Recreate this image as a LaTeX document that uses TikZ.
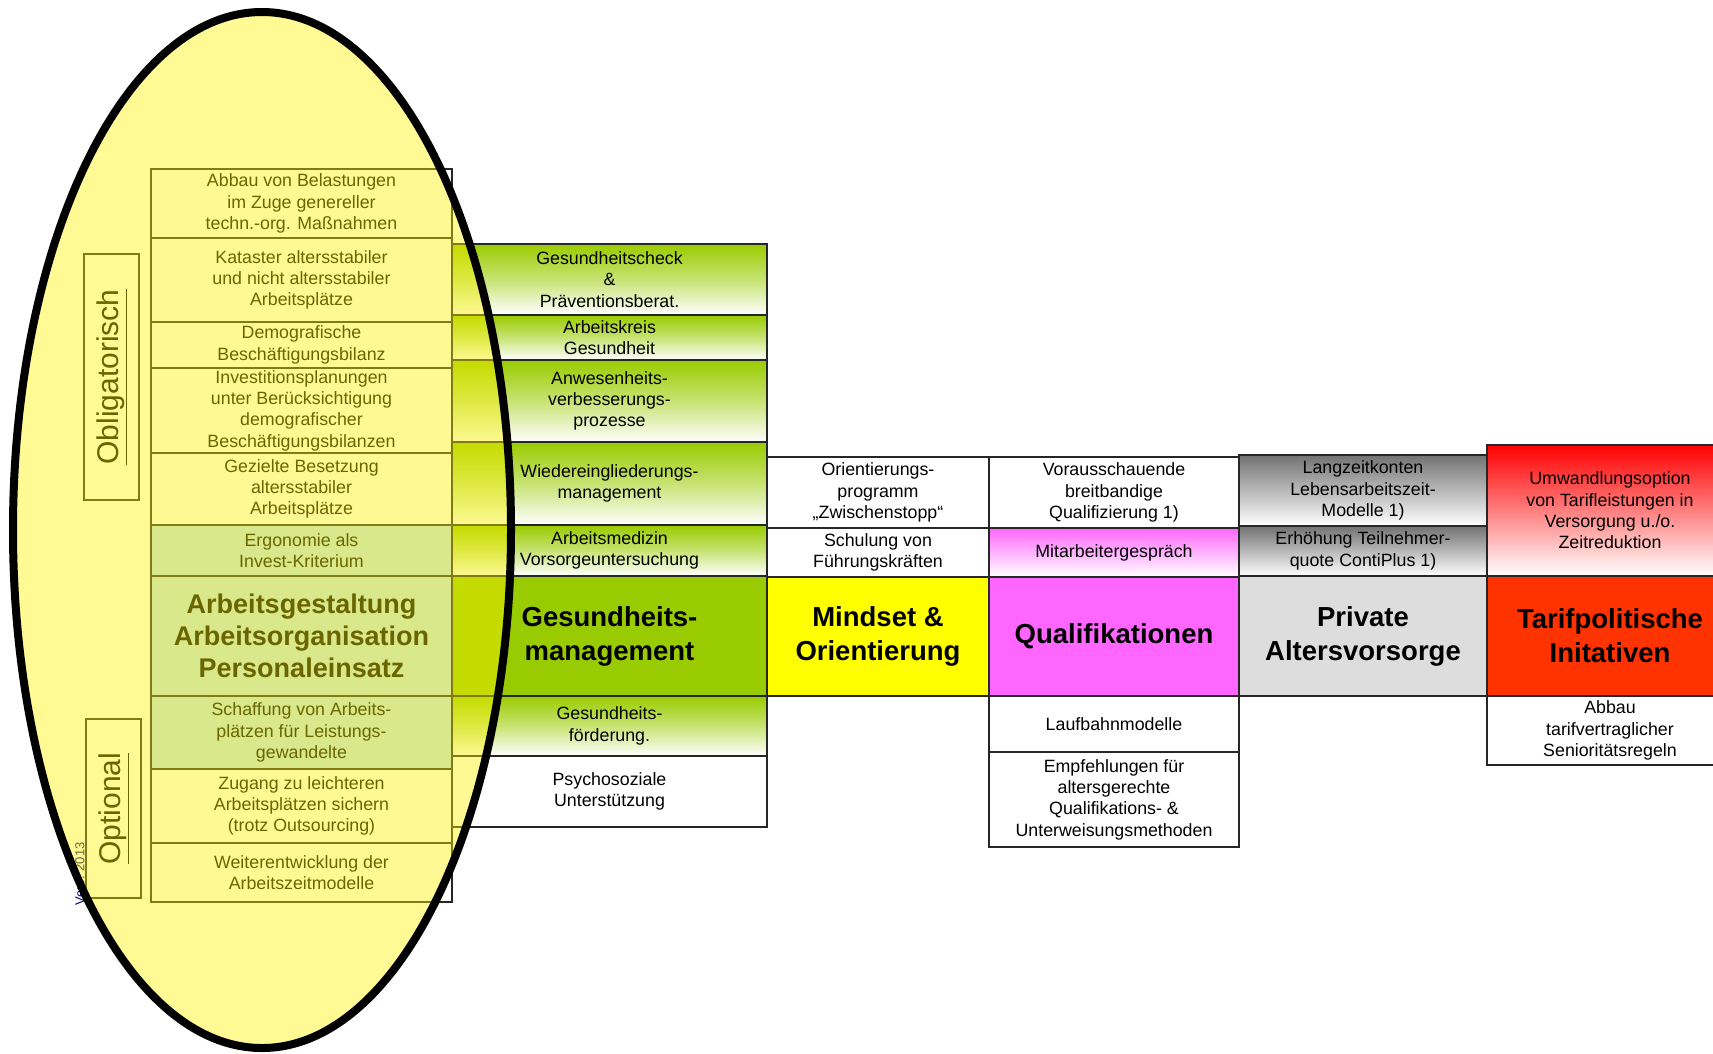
\documentclass[tikz,border=0pt]{standalone}
\usepackage{fontspec}
\setmainfont{Liberation Sans}

\definecolor{gmgreen}{HTML}{99CC00}
\definecolor{mindyellow}{HTML}{FFFF00}
\definecolor{qualpink}{HTML}{FF66FF}
\definecolor{avgray}{HTML}{DDDDDD}
\definecolor{fadegray}{HTML}{727272}
\definecolor{tarifred}{HTML}{FF3300}
\definecolor{tintblue}{HTML}{BCE2EE}

\tikzset{
  cell/.style={rectangle, draw=black!85, line width=1.8pt, inner sep=1pt,
    align=center, text=black, font=\fontsize{17.8}{21.3}\selectfont},
  plain/.style={fill=white},
  tinted/.style={fill=tintblue},
  greenfade/.style={top color=gmgreen, bottom color=white, middle color=gmgreen!55},
  pinkfade/.style={top color=qualpink, bottom color=white},
  grayfade/.style={top color=fadegray, bottom color=white},
  redfade/.style={top color=red, bottom color=white},
  head/.style={line width=2.4pt, font=\bfseries\fontsize{27.5}{34}\selectfont},
  lefthead/.style={fill=tintblue, text=black, font=\bfseries\fontsize{27}{32}\selectfont},
  gmhead/.style={head, fill=gmgreen},
  mindhead/.style={head, fill=mindyellow},
  qualhead/.style={head, fill=qualpink},
  avhead/.style={head, fill=avgray},
  tarifhead/.style={head, fill=tarifred},
  sidebox/.style={rectangle, draw=black!85, line width=1.8pt, rotate=90,
    inner sep=0pt, font=\fontsize{30}{30}\selectfont},
  halo/.style={draw=black, line width=8pt, fill=yellow, fill opacity=0.42},
}

\begin{document}
\begin{tikzpicture}[x=1pt,y=-1pt]
  \useasboundingbox (0,0) rectangle (1713,1053);
  \clip (0,0) rectangle (1713,1053);

  % left column
  \foreach \nm/\ya/\yb/\sty/\txt in {
      a1/169/238/plain/{Abbau von Belastungen\\im Zuge genereller\\techn.-org. Maßnahmen},
      a2/238/322/plain/{Kataster altersstabiler\\und nicht altersstabiler\\Arbeitsplätze},
      a3/322/368/plain/{Demografische\\Beschäftigungsbilanz},
      a4/368/453/plain/{Investitionsplanungen\\unter Berücksichtigung\\demografischer\\Beschäftigungsbilanzen},
      a5/453/525/plain/{Gezielte Besetzung\\altersstabiler\\Arbeitsplätze},
      a6/525/576/tinted/{Ergonomie als\\Invest-Kriterium},
      a7/576/696/lefthead/{Arbeitsgestaltung\\Arbeitsorganisation\\Personaleinsatz},
      a8/696/769/tinted/{Schaffung von Arbeits-\\plätzen für Leistungs-\\gewandelte},
      a9/769/843/plain/{Zugang zu leichteren\\Arbeitsplätzen sichern\\(trotz Outsourcing)},
      a10/843/902/plain/{Weiterentwicklung der\\Arbeitszeitmodelle}}
    \node[cell, \sty, minimum width=301pt, minimum height={(\yb-\ya)*1pt}]
      (\nm) at (301.5, {(\ya+\yb)/2}) {\txt};

  % Gesundheitsmanagement
  \foreach \nm/\ya/\yb/\sty/\txt in {
      g1/244/315/greenfade/{Gesundheitscheck\\\&\\Präventionsberat.},
      g2/315/360/greenfade/{Arbeitskreis\\Gesundheit},
      g3/360/442/greenfade/{Anwesenheits-\\verbesserungs-\\prozesse},
      g4/442/525/greenfade/{Wiedereingliederungs-\\management},
      g5/525/576/greenfade/{Arbeitsmedizin\\Vorsorgeuntersuchung},
      gm/576/696/gmhead/{Gesundheits-\\management},
      g6/696/756/greenfade/{Gesundheits-\\förderung.},
      g7/756/827/plain/{Psychosoziale\\Unterstützung}}
    \node[cell, \sty, minimum width=315pt, minimum height={(\yb-\ya)*1pt}]
      (\nm) at (609.5, {(\ya+\yb)/2}) {\txt};

  % Mindset
  \foreach \nm/\ya/\yb/\sty/\txt in {
      m1/457/528/plain/{Orientierungs-\\programm\\„Zwischenstopp“},
      m2/528/577/plain/{Schulung von\\Führungskräften},
      mm/577/696/mindhead/{Mindset \&\\Orientierung}}
    \node[cell, \sty, minimum width=222pt, minimum height={(\yb-\ya)*1pt}]
      (\nm) at (878, {(\ya+\yb)/2}) {\txt};

  % Qualifikationen
  \foreach \nm/\ya/\yb/\sty/\txt in {
      q1/457/528/plain/{Vorausschauende\\breitbandige\\Qualifizierung 1)},
      q2/528/577/pinkfade/{Mitarbeitergespräch},
      qm/577/696/qualhead/{Qualifikationen},
      q3/696/752/plain/{Laufbahnmodelle},
      q4/752/847/plain/{Empfehlungen für\\altersgerechte\\Qualifikations- \&\\Unterweisungsmethoden}}
    \node[cell, \sty, minimum width=250pt, minimum height={(\yb-\ya)*1pt}]
      (\nm) at (1114, {(\ya+\yb)/2}) {\txt};

  % Altersvorsorge
  \foreach \nm/\ya/\yb/\sty/\txt in {
      p1/455/526/grayfade/{Langzeitkonten\\Lebensarbeitszeit-\\Modelle 1)},
      p2/526/576/grayfade/{Erhöhung Teilnehmer-\\quote ContiPlus 1)},
      pm/576/696/avhead/{Private\\Altersvorsorge}}
    \node[cell, \sty, minimum width=248pt, minimum height={(\yb-\ya)*1pt}]
      (\nm) at (1363, {(\ya+\yb)/2}) {\txt};

  % Tarifpolitik
  \foreach \nm/\ya/\yb/\sty/\txt in {
      t1/445/576/redfade/{Umwandlungsoption\\von Tarifleistungen in\\Versorgung u./o.\\Zeitreduktion},
      tm/576/696/tarifhead/{Tarifpolitische\\Initativen},
      t2/696/765/plain/{Abbau\\tarifvertraglicher\\Senioritätsregeln}}
    \node[cell, \sty, minimum width=246pt, minimum height={(\yb-\ya)*1pt}]
      (\nm) at (1610, {(\ya+\yb)/2}) {\txt};

  % side labels
  \node[sidebox, minimum width=246pt, minimum height=55pt] (oblig) at (111.5,377)
    {\underline{Obligatorisch}};
  \node[sidebox, minimum width=179pt, minimum height=55pt] (optio) at (113.5,808.5)
    {\underline{Optional}};
  \node[rotate=90, text=blue!45!black, font=\fontsize{13}{13}\selectfont] (stamp)
    at (80,874) {Vers. 2013};

  % overlay
  \draw[halo] (262,530) ellipse [x radius=249, y radius=518];
\end{tikzpicture}
\end{document}
